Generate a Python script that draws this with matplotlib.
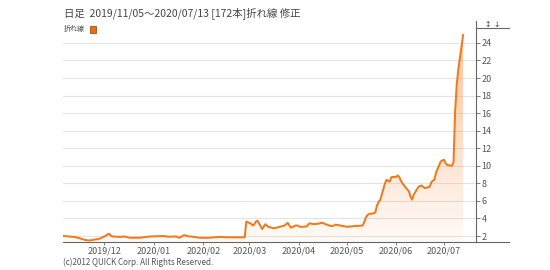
"""日足 折れ線チャート (2019/11/05～2020/07/13) の再現."""

import numpy as np
import pandas as pd
import matplotlib
matplotlib.use("Agg")
import matplotlib.pyplot as plt
import matplotlib.dates as mdates
from matplotlib.lines import Line2D
from matplotlib.patches import Rectangle

plt.rcParams['font.family'] = ['Noto Sans CJK JP', 'DejaVu Sans']

# 営業日 (東証休場日を除く)
start = "2019-11-05"
end = "2020-07-13"
holidays = ["2019-12-31", "2020-01-01", "2020-01-02", "2020-01-03", "2020-01-13",
            "2020-02-11", "2020-02-24", "2020-03-20", "2020-04-29",
            "2020-05-04", "2020-05-05", "2020-05-06"]
dates = pd.bdate_range(start, end, freq="C", holidays=holidays)

# 終値 (チャートから読み取り)
nov = [2.0, 2.0, 1.98, 1.96, 1.92, 1.9, 1.88, 1.8, 1.77, 1.6, 1.55, 1.52, 1.5,
       1.5, 1.6, 1.62, 1.66, 1.7, 1.78]
dec = [2.05, 2.2, 2.25, 2.05, 1.95, 1.92, 1.9, 1.9, 1.93, 1.95, 1.85, 1.8, 1.8,
       1.8, 1.82, 1.8, 1.82, 1.85, 1.87, 1.9, 1.95]
jan = [2.0, 2.0, 1.97, 1.95, 1.92, 1.95, 1.95, 1.88, 1.8, 2.1, 2.05, 2.0, 1.95,
       1.95, 1.88, 1.85, 1.82, 1.8, 1.8]
feb = [1.8, 1.8, 1.8, 1.82, 1.84, 1.88, 1.9, 1.88, 1.87, 1.85, 1.85, 1.85, 1.85,
       1.85, 1.85, 1.85, 1.85, 3.65]
mar = [3.4, 3.2, 3.3, 3.65, 3.75, 2.8, 3.1, 3.35, 3.15, 3.05, 2.9, 2.9, 2.95,
       3.0, 3.2, 3.35, 3.5, 3.2, 2.95, 3.2, 3.2]
apr = [3.1, 3.05, 3.05, 3.1, 3.35, 3.45, 3.4, 3.35, 3.4, 3.45, 3.5, 3.5, 3.4,
       3.2, 3.15, 3.15, 3.2, 3.3, 3.2, 3.15, 3.1]
may = [3.05, 3.15, 3.15, 3.2, 3.6, 4.1, 4.4, 4.5, 4.6, 4.7, 5.5, 5.9, 6.1,
       8.0, 8.4, 8.3, 8.2, 8.7]
jun = [8.75, 8.9, 8.7, 8.3, 8.0, 7.3, 7.1, 6.5, 6.15, 6.7, 7.6, 7.7, 7.75,
       7.6, 7.45, 7.6, 8.1, 8.3, 8.4, 9.2, 10.5, 10.6]
jul = [10.7, 10.3, 10.1, 10.0, 10.4, 16.2, 19.2, 21.0, 24.9]
values = np.array(nov + dec + jan + feb + mar + apr + may + jun + jul)

yticks = [2, 4, 6, 8, 10, 12, 14, 16, 18, 20, 22, 24]
month_ticks = ["2019-12-01", "2020-01-01", "2020-02-01", "2020-03-01",
               "2020-04-01", "2020-05-01", "2020-06-01", "2020-07-01"]

line_color = "#F07A1E"
text_color = "#555555"

fig = plt.figure(figsize=(5.5, 2.7), dpi=100)
ax = fig.add_axes([63 / 550, 1 - 242 / 270, (476 - 63) / 550, (242 - 28) / 270])

x = mdates.date2num(dates)
x0 = mdates.date2num(pd.Timestamp(start))
ax.set_xlim(x0, x0 + 259.1)
ax.set_ylim(1.32, 25.7)

# グリッド
for yt in yticks:
    ax.axhline(yt, color="#e4e4e4", lw=0.8, zorder=0)

# グラデーション塗りつぶし
poly = ax.fill_between(x, values, 1.32, color="none", lw=0)
grad = np.linspace(0.04, 0.5, 256).reshape(-1, 1)
rgba = np.zeros((256, 1, 4))
rgba[..., 0] = 0.97
rgba[..., 1] = 0.52
rgba[..., 2] = 0.18
rgba[..., 3] = grad
img = ax.imshow(rgba, extent=[x[0], x[-1], 1.32, 25.7], origin="lower",
                aspect="auto", zorder=1, interpolation="bilinear")
img.set_clip_path(poly.get_paths()[0], transform=ax.transData)

ax.plot(x, values, color=line_color, lw=1.45, zorder=3, solid_joinstyle="round")

# 軸
for s in ["top", "left"]:
    ax.spines[s].set_visible(False)
ax.spines["right"].set_color("#666666")
ax.spines["bottom"].set_color("#666666")
ax.spines["right"].set_linewidth(0.8)
ax.spines["bottom"].set_linewidth(0.8)

ax.yaxis.tick_right()
ax.set_yticks(yticks)
ax.set_yticklabels([str(v) for v in yticks])
ax.tick_params(axis="y", direction="out", length=3, width=0.6, colors="#666666",
               labelcolor=text_color, labelsize=6.5, pad=1)

ax.set_xticks(mdates.date2num(pd.to_datetime(month_ticks)))
ax.set_xticklabels([pd.Timestamp(m).strftime("%Y/%m") for m in month_ticks])
ax.tick_params(axis="x", direction="out", length=2, width=0.6, colors="#666666",
               labelcolor=text_color, labelsize=6.5, pad=1.5)

# 軸の延長線
fig.add_artist(Line2D([476 / 550, 509 / 550], [1 - 242 / 270] * 2,
                      color="#666666", lw=0.8))
fig.add_artist(Line2D([476 / 550, 509 / 550], [1 - 28 / 270] * 2,
                      color="#666666", lw=0.8))
fig.add_artist(Line2D([476 / 550] * 2, [1 - 28 / 270, 1 - 21 / 270],
                      color="#666666", lw=0.8))
fig.text(488 / 550, 1 - 24.5 / 270, "↕", fontsize=5.5, color="#444444",
         ha="center", va="center", family="DejaVu Sans")
fig.text(497 / 550, 1 - 24.5 / 270, "↓", fontsize=5.5, color="#444444",
         ha="center", va="center", family="DejaVu Sans")

# タイトルと凡例
fig.text(64 / 550, 1 - 13 / 270, "日足  2019/11/05～2020/07/13 [172本]折れ線 修正",
         fontsize=7.5, color="#444444", va="center", ha="left")
fig.text(64 / 550, 1 - 29 / 270, "折れ線", fontsize=5, color="#444444",
         va="center", ha="left")
fig.add_artist(Rectangle((90 / 550, 1 - 32.5 / 270), 6 / 550, 6 / 270,
                         facecolor="#F06A10", edgecolor="#8a3a00", lw=0.5,
                         transform=fig.transFigure))

fig.text(63 / 550, 1 - 262 / 270, "(c)2012 QUICK Corp. All Rights Reserved.",
         fontsize=5.8, color=text_color, va="center", ha="left")

fig.savefig("out.png", dpi=100)
